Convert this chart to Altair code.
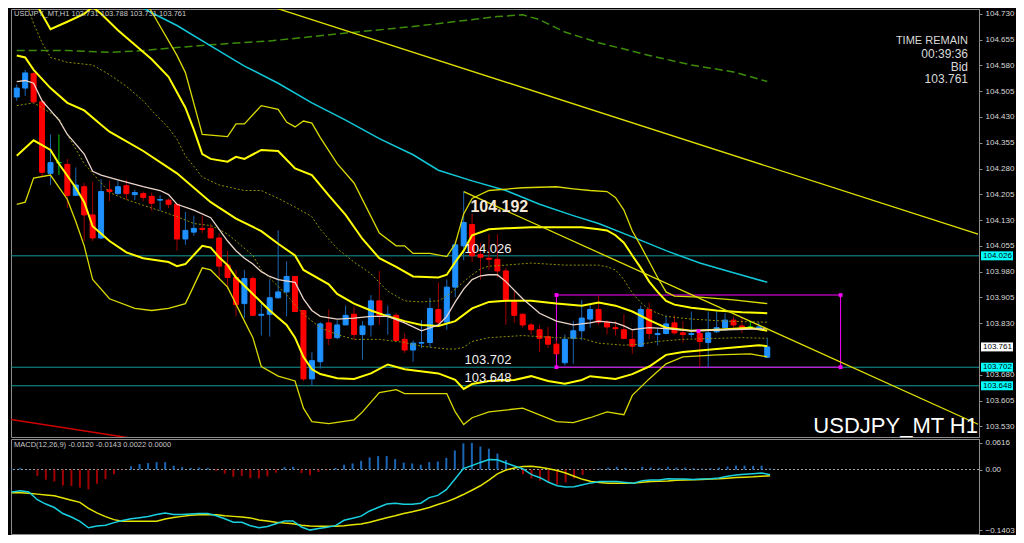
import altair as alt
import pandas as pd

# ---------------- USDJPY_MT H1 candles (bar index 0..89) ----------------
opens = [104.488,104.514,104.556,104.474,104.266,104.297,104.292,104.202,104.227,104.145,
         104.078,104.218,104.207,104.230,104.204,104.207,104.199,104.188,104.188,104.176,
         104.075,104.095,104.106,104.106,104.078,103.999,103.963,103.887,103.960,103.853,
         103.856,103.904,103.921,103.966,103.867,103.668,103.718,103.831,103.788,103.825,
         103.856,103.797,103.825,103.895,103.853,103.853,103.783,103.752,103.772,103.774,
         103.870,103.833,103.935,104.055,104.117,104.030,104.019,104.016,103.982,103.895,
         103.856,103.825,103.811,103.791,103.769,103.715,103.786,103.808,103.842,103.870,
         103.833,103.817,103.811,103.783,103.763,103.870,103.797,103.800,103.831,103.802,
         103.797,103.800,103.774,103.805,103.817,103.839,103.822,103.819,103.814,103.731]
highs = [104.525,104.567,104.561,104.474,104.379,104.379,104.308,104.283,104.238,104.241,
         104.249,104.244,104.244,104.247,104.218,104.213,104.210,104.202,104.193,104.176,
         104.154,104.143,104.143,104.120,104.092,104.041,103.985,103.985,103.966,103.895,
         103.957,104.100,104.010,103.966,103.867,103.746,103.833,103.870,103.839,103.881,
         103.878,103.836,103.912,103.982,103.881,103.859,103.800,103.780,103.839,103.904,
         103.949,103.957,104.069,104.213,104.148,104.064,104.089,104.089,103.991,103.923,
         103.859,103.831,103.825,103.819,103.780,103.797,103.836,103.898,103.887,103.909,
         103.839,103.836,103.856,103.808,103.881,103.890,103.817,103.853,103.853,103.836,
         103.864,103.811,103.864,103.864,103.859,103.850,103.848,103.836,103.833,103.788]
lows = [104.477,104.491,104.469,104.255,104.232,104.261,104.165,104.202,104.069,104.069,
        104.075,104.185,104.204,104.188,104.188,104.185,104.157,104.157,104.165,104.041,
        104.058,104.084,104.092,104.078,103.957,103.929,103.850,103.845,103.850,103.794,
        103.791,103.901,103.850,103.862,103.662,103.648,103.698,103.766,103.783,103.825,
        103.780,103.724,103.791,103.825,103.797,103.780,103.743,103.718,103.758,103.760,
        103.825,103.811,103.906,104.013,104.008,103.957,103.985,103.963,103.825,103.831,
        103.817,103.797,103.746,103.758,103.741,103.707,103.712,103.780,103.817,103.825,
        103.797,103.794,103.783,103.741,103.760,103.783,103.766,103.797,103.797,103.774,
        103.788,103.704,103.702,103.802,103.808,103.817,103.802,103.814,103.811,103.731]
closes = [104.514,104.558,104.474,104.269,104.297,104.297,104.202,104.232,104.145,104.078,
          104.213,104.213,104.227,104.207,104.210,104.196,104.179,104.190,104.176,104.075,
          104.100,104.106,104.103,104.078,103.996,103.963,103.884,103.960,103.853,103.856,
          103.904,103.921,103.966,103.864,103.668,103.721,103.828,103.786,103.825,103.853,
          103.797,103.822,103.895,103.853,103.856,103.780,103.752,103.772,103.774,103.873,
          103.833,103.935,104.058,104.123,104.026,104.022,104.016,103.982,103.895,103.853,
          103.825,103.811,103.786,103.769,103.741,103.783,103.808,103.845,103.870,103.833,
          103.819,103.814,103.786,103.763,103.870,103.800,103.800,103.828,103.802,103.797,
          103.800,103.777,103.802,103.817,103.839,103.825,103.817,103.819,103.819,103.761]

# ---------------- Bollinger-style bands (bar index, price) ----------------
bb_mid_i = [0,1,2,4,6,8,10,11,15,19,23,26,29,31,33,34,37,38,40,42,44,46,48,50,52,54,56,58,61,64,67,69,71,73,75,77,80,83,87,89]
bb_mid = [104.609,104.603,104.567,104.514,104.471,104.449,104.407,104.387,104.331,104.266,
          104.182,104.134,104.098,104.061,104.027,103.985,103.943,103.915,103.887,103.867,
          103.850,103.836,103.825,103.822,103.836,103.873,103.892,103.895,103.895,103.887,
          103.881,103.890,103.881,103.864,103.839,103.817,103.808,103.811,103.817,103.808]
bb_up2_i = [0,2,4,6,8,9,10,12,14,16,18,20,21,22,23,25,26,27,29,31,33,35,37,39,41,43,45,47,50,51,
            52,53,54,56,58,61,64,67,69,70,71,72,73,74,75,76,77,78,80,83,86,89]
bb_up2 = [104.856,104.772,104.685,104.707,104.730,104.750,104.730,104.682,104.640,104.598,
          104.547,104.457,104.393,104.322,104.308,104.300,104.314,104.308,104.334,104.331,
          104.280,104.261,104.202,104.145,104.075,104.019,103.994,103.966,103.963,103.971,
          104.008,104.041,104.086,104.103,104.106,104.109,104.109,104.109,104.103,104.100,
          104.086,104.064,104.027,103.991,103.951,103.921,103.895,103.884,103.875,103.867,
          103.862,103.859]
bb_up3_i = [10,15,16,19,20,22,25,26,27,29,31,32,33,34,35,36,38,40,43,45,46,47,49,51,52,53,54,56,60,64,
            66,68,70,71,72,73,74,76,77,78,81,85,89]
bb_up3 = [104.969,104.778,104.736,104.609,104.559,104.379,104.373,104.410,104.410,104.463,
          104.452,104.415,104.401,104.418,104.412,104.370,104.294,104.238,104.092,104.055,
          104.055,104.033,104.033,104.024,104.061,104.148,104.193,104.216,104.224,104.227,
          104.221,104.216,104.213,104.196,104.159,104.098,104.055,103.963,103.921,103.909,
          103.906,103.898,103.887]
bb_up1_i = [0,1,2,3,4,6,9,11,13,15,16,18,19,20,22,24,27,29,31,33,35,36,37,38,40,42,44,46,48,50,
            51,52,53,54,55,56,58,61,65,69,70,71,72,73,74,75,76,77,80,84,89]
bb_up1 = [104.814,104.772,104.702,104.646,104.603,104.589,104.581,104.553,104.519,104.477,
          104.449,104.398,104.365,104.317,104.255,104.232,104.216,104.216,104.193,104.168,
          104.140,104.103,104.075,104.047,104.008,103.974,103.923,103.895,103.892,103.895,
          103.909,103.929,103.951,103.971,103.988,103.996,103.999,104.005,103.999,103.999,
          103.994,103.985,103.957,103.918,103.890,103.870,103.859,103.850,103.842,103.836,
          103.833]
bb_lo1_i = [0,2,3,5,6,8,9,11,13,15,17,19,21,23,24,25,26,28,29,31,32,34,36,38,40,43,46,48,51,52,
            53,54,56,60,64,67,69,72,74,76,79,83,86,89]
bb_lo1 = [104.463,104.471,104.457,104.426,104.379,104.294,104.266,104.210,104.190,104.173,
          104.157,104.140,104.120,104.114,104.103,104.089,104.069,104.027,103.985,103.937,
          103.912,103.856,103.817,103.797,103.783,103.783,103.774,103.763,103.755,103.755,
          103.760,103.777,103.788,103.794,103.788,103.786,103.772,103.766,103.769,103.777,
          103.783,103.786,103.788,103.786]
bb_lo2_i = [0,2,4,5,7,8,9,11,13,15,18,19,20,22,23,24,25,26,28,30,32,33,34,35,36,38,40,42,44,46,
            50,52,53,54,56,59,61,63,65,67,68,71,73,75,77,79,83,88,89]
bb_lo2 = [104.317,104.362,104.334,104.294,104.224,104.182,104.112,104.069,104.036,104.019,
          104.008,103.996,104.002,104.055,104.050,104.022,103.999,103.963,103.915,103.867,
          103.825,103.788,103.732,103.696,103.682,103.670,103.668,103.684,103.710,103.696,
          103.684,103.665,103.639,103.653,103.662,103.665,103.676,103.662,103.654,103.665,
          103.676,103.668,103.682,103.704,103.738,103.746,103.755,103.766,103.763]
bb_lo3_i = [0,1,2,4,6,7,8,9,11,14,16,18,20,22,23,25,27,28,29,31,33,34,35,37,40,41,43,45,46,51,
            52,53,54,56,60,64,66,68,70,72,73,75,77,79,83,87,89]
bb_lo3 = [104.176,104.182,104.252,104.261,104.190,104.126,104.055,103.957,103.901,103.873,
          103.867,103.873,103.887,103.991,103.985,103.935,103.836,103.788,103.704,103.676,
          103.662,103.583,103.544,103.538,103.549,103.572,103.628,103.637,103.625,103.625,
          103.572,103.535,103.555,103.572,103.583,103.544,103.541,103.555,103.572,103.564,
          103.620,103.668,103.712,103.732,103.738,103.741,103.732]

# ---------------- moving averages ----------------
ma_fast_i = [0,1,2,3,4,5,6,7,8,9,10,12,15,17,18,19,21,23,24,25,26,27,28,29,30,31,33,34,35,36,
             38,40,42,44,46,48,50,51,52,53,54,55,56,57,58,60,62,64,66,68,69,71,72,73,74,75,77,80,84,89]
ma_fast = [104.533,104.536,104.528,104.477,104.449,104.421,104.379,104.351,104.322,104.272,
           104.261,104.247,104.227,104.216,104.204,104.176,104.159,104.137,104.103,104.069,
           104.041,104.019,104.002,103.980,103.966,103.957,103.949,103.901,103.867,103.850,
           103.842,103.845,103.850,103.850,103.831,103.808,103.825,103.850,103.892,103.929,
           103.957,103.968,103.971,103.971,103.951,103.901,103.859,103.836,103.825,103.831,
           103.836,103.831,103.822,103.811,103.814,103.817,103.814,103.808,103.811,103.814]
ma_mid_i = [10,14,16,19,23,27,31,35,39,43,47,50,54,58,62,66,69,73,77,81,85,89]
ma_mid = [104.856,104.761,104.733,104.696,104.637,104.578,104.528,104.471,104.421,104.367,
          104.320,104.275,104.244,104.216,104.176,104.143,104.120,104.081,104.041,104.005,
          103.977,103.949]
ma_slow_i = [0,6,11,15,19,23,30,39,47,55,57,60,62,65,69,75,80,85,89]
ma_slow = [104.623,104.623,104.618,104.623,104.632,104.640,104.651,104.674,104.693,104.716,
           104.722,104.727,104.713,104.677,104.646,104.609,104.581,104.561,104.533]

# ---------------- drawn objects ----------------
trend1_i = [25, 114]
trend1 = [104.792, 104.089]
trend2_i = [53, 114]
trend2 = [104.213, 103.536]
red_i = [-1, 14]
red_line = [103.551, 103.494]
levels = [104.026, 103.702, 103.648]
box_i = [64, 97.7]
box_p = [103.912, 103.702]

ann_text = ["104.192", "104.026", "103.702", "103.648"]
ann_i = [53.8, 53.1, 53.1, 53.1]
ann_p = [104.168, 104.047, 103.724, 103.670]

level_tags = ["104.026", "103.702", "103.648"]
bid_tag = ["103.761"]
bid_price = [103.761]

# 103.755 sits under the Bid tag, so it is not listed
price_ticks = [104.730, 104.655, 104.580, 104.505, 104.430, 104.355, 104.280, 104.205, 104.130,
               104.055, 103.980, 103.905, 103.830, 103.680, 103.605, 103.530]

header = "USDJPY_MT,H1  103.731 103.788 103.731 103.761"
corner_lines = ["TIME REMAIN", "00:39:36", "Bid", "103.761"]

# ---------------- MACD(12,26,9) ----------------
hist = [0.002,0.0037,0.001,-0.0148,-0.0237,-0.028,-0.037,-0.038,-0.042,-0.046,
        -0.033,-0.022,-0.011,-0.001,0.0074,0.0126,0.0148,0.017,0.017,0.0089,
        0.0052,0.0037,0.0044,0.0037,-0.0037,-0.0096,-0.017,-0.0148,-0.020,-0.0207,
        -0.016,-0.0074,0.0052,0.006,-0.0081,-0.0133,-0.006,-0.0015,0.0037,0.011,
        0.014,0.020,0.028,0.031,0.031,0.024,0.016,0.014,0.011,0.017,
        0.0185,0.027,0.044,0.0605,0.0616,0.053,0.048,0.037,0.022,0.001,
        -0.011,-0.0207,-0.026,-0.030,-0.035,-0.030,-0.0207,-0.0126,-0.0015,0.002,
        0.0044,0.006,0.0037,0.001,0.006,0.0044,0.0037,0.006,0.0044,0.0044,
        0.003,0.002,0.003,0.0044,0.0067,0.0089,0.0089,0.008,0.0089,0.0022]
macd = [-0.052,-0.049,-0.052,-0.070,-0.080,-0.088,-0.102,-0.110,-0.120,-0.135,
        -0.131,-0.129,-0.123,-0.118,-0.114,-0.1115,-0.109,-0.104,-0.1005,-0.104,
        -0.104,-0.103,-0.102,-0.102,-0.107,-0.114,-0.122,-0.122,-0.130,-0.135,
        -0.132,-0.1255,-0.119,-0.119,-0.133,-0.1403,-0.1366,-0.1337,-0.130,-0.1175,
        -0.113,-0.108,-0.096,-0.088,-0.080,-0.078,-0.0805,-0.0805,-0.078,-0.065,
        -0.060,-0.0466,-0.0228,0.002,0.009,0.0164,0.023,0.0223,0.015,0.008,
        0.0015,-0.0118,-0.019,-0.0295,-0.0377,-0.0406,-0.0399,-0.0355,-0.031,-0.028,
        -0.028,-0.028,-0.030,-0.0317,-0.0258,-0.0244,-0.0244,-0.0214,-0.022,-0.022,
        -0.0229,-0.022,-0.0214,-0.0199,-0.0155,-0.0125,-0.011,-0.0096,-0.008,-0.0120]
signal = [-0.054,-0.054,-0.055,-0.057,-0.059,-0.061,-0.066,-0.071,-0.076,-0.090,
          -0.1005,-0.109,-0.116,-0.1197,-0.120,-0.120,-0.120,-0.1197,-0.1145,-0.111,
          -0.1085,-0.106,-0.105,-0.104,-0.105,-0.107,-0.1085,-0.110,-0.112,-0.1167,
          -0.119,-0.122,-0.124,-0.1255,-0.129,-0.131,-0.1315,-0.1315,-0.1315,-0.130,
          -0.128,-0.126,-0.122,-0.1167,-0.1115,-0.107,-0.102,-0.098,-0.093,-0.088,
          -0.081,-0.075,-0.067,-0.058,-0.048,-0.0377,-0.0244,-0.0102,-0.0013,0.0035,
          0.0067,0.0074,0.0052,0.0015,-0.0022,-0.008,-0.0155,-0.0228,-0.028,-0.030,
          -0.0317,-0.0317,-0.0317,-0.031,-0.0295,-0.028,-0.0273,-0.0266,-0.025,-0.0244,
          -0.0236,-0.0229,-0.022,-0.0214,-0.020,-0.0184,-0.0177,-0.017,-0.0155,-0.0143]
macd_label = "MACD(12,26,9) -0.0120 -0.0143 0.0022 0.0000"

# ---------------- layout ----------------
W, H1, H2 = 968, 428, 95
FONT = "Liberation Sans"
XSCALE = alt.Scale(domain=[-0.09, 113.52], nice=False, zero=False)


def X(f):
    return alt.X(f, type="quantitative", scale=XSCALE, axis=None)


yscale = alt.Scale(domain=[103.499, 104.744], nice=False, zero=False)
yaxis = alt.Axis(orient="right", values=price_ticks, format=".3f", title=None, grid=False,
                 domainColor="#8c8c8c", tickColor="#8c8c8c", tickSize=3,
                 labelColor="#d8d8d8", labelFont=FONT, labelFontSize=8, labelPadding=3,
                 labelFlush=False, labelOverlap=False, minExtent=36, maxExtent=36)


def Y(f):
    return alt.Y(f, type="quantitative", scale=yscale, axis=yaxis)


def line(ix, vals, color, width, dash=None):
    kw = dict(color=color, strokeWidth=width, clip=True)
    if dash:
        kw["strokeDash"] = dash
    df = pd.DataFrame({"i": ix, "price": vals})
    return alt.Chart(df).mark_line(**kw).encode(x=X("i"), y=Y("price"))


n = len(opens)
idx = list(range(n))
dirs = ["up" if c > o else ("down" if c < o else "doji") for o, c in zip(opens, closes)]
candles = pd.DataFrame({"i": idx, "open": opens, "high": highs, "low": lows,
                        "close": closes, "dir": dirs})

DIRS = ["up", "down", "doji"]
wicks = alt.Chart(candles).mark_rule(strokeWidth=1).encode(
    x=X("i"), y=Y("low"), y2=alt.Y2("high"),
    color=alt.Color("dir:N", scale=alt.Scale(domain=DIRS, range=["#1a66b4", "#a00000", "#00c800"]),
                    legend=None))
bodies = alt.Chart(candles).mark_bar(size=5, strokeWidth=1).encode(
    x=X("i"), y=Y("open"), y2=alt.Y2("close"),
    fill=alt.Fill("dir:N", scale=alt.Scale(domain=DIRS, range=["#1e90ff", "#ff0000", "#00c800"]),
                  legend=None),
    stroke=alt.Stroke("dir:N", scale=alt.Scale(domain=DIRS, range=["#1e90ff", "#ff0000", "#00c800"]),
                      legend=None))

lvl_chart = alt.Chart(pd.DataFrame({"price": levels})).mark_rule(
    color="#159a9a", strokeWidth=1).encode(y=Y("price"))

box_df = pd.DataFrame({"i0": [box_i[0]], "i1": [box_i[1]], "top": [box_p[0]], "bot": [box_p[1]]})
box_chart = alt.Chart(box_df).mark_rect(fill="#000000", fillOpacity=0, stroke="#ff00ff",
                                        strokeWidth=1).encode(
    x=X("i0"), x2=alt.X2("i1"), y=Y("top"), y2=alt.Y2("bot"))
handles_df = pd.DataFrame({"i": [box_i[0], box_i[0], box_i[1], box_i[1], (box_i[0] + box_i[1]) / 2],
                           "price": [box_p[0], box_p[1], box_p[0], box_p[1], (box_p[0] + box_p[1]) / 2]})
handles = alt.Chart(handles_df).mark_square(size=14, color="#ff00ff", opacity=1).encode(
    x=X("i"), y=Y("price"))

THICK = "#ffff00"
THIN = "#dada00"
DOT = "#8f8f00"
lines = [
    line(ma_slow_i, ma_slow, "#3c8c08", 1.5, [8, 4]),
    line(ma_mid_i, ma_mid, "#10c8d8", 1.5),
    line(bb_up1_i, bb_up1, DOT, 1, [2, 2]),
    line(bb_lo1_i, bb_lo1, DOT, 1, [2, 2]),
    line(bb_up3_i, bb_up3, THIN, 1.3),
    line(bb_lo3_i, bb_lo3, THIN, 1.3),
    line(bb_up2_i, bb_up2, THICK, 2),
    line(bb_lo2_i, bb_lo2, THICK, 2),
    line(bb_mid_i, bb_mid, THICK, 2),
    line(ma_fast_i, ma_fast, "#ecd6cc", 1.3),
    line(trend1_i, trend1, "#e0e000", 1.3),
    line(trend2_i, trend2, "#e0e000", 1.3),
    line(red_i, red_line, "#d00000", 1.5),
]

ann_df = pd.DataFrame({"i": ann_i, "price": ann_p, "t": ann_text})
ann_big = alt.Chart(ann_df.iloc[:1]).mark_text(align="left", baseline="middle", font=FONT,
                                               fontSize=16, fontWeight="bold", color="#f6e8d8").encode(
    x=X("i"), y=Y("price"), text="t:N")
ann_small = alt.Chart(ann_df.iloc[1:]).mark_text(align="left", baseline="middle", font=FONT,
                                                 fontSize=13, color="#f0f0f0").encode(
    x=X("i"), y=Y("price"), text="t:N")

head_txt = alt.Chart(pd.DataFrame({"t": [header]})).mark_text(
    align="left", baseline="middle", font=FONT, fontSize=7.5, color="#c8c8c8").encode(
    x=alt.value(3), y=alt.value(5), text="t:N")
corner_df = pd.DataFrame({"t": corner_lines})
corner_y = [32, 45, 57.5, 70]
corner_fs = [11, 12, 12, 12]
corners = [
    alt.Chart(corner_df.iloc[k:k + 1]).mark_text(align="right", baseline="middle", font=FONT,
                                                fontSize=corner_fs[k], color="#d8d8d8").encode(
        x=alt.value(957), y=alt.value(corner_y[k]), text="t:N")
    for k in range(4)
]
sym_txt = alt.Chart(pd.DataFrame({"t": ["USDJPY_MT H1"]})).mark_text(
    align="right", baseline="middle", font=FONT, fontSize=22, color="#ffffff").encode(
    x=alt.value(W - 1), y=alt.value(417), text="t:N")

BOX = "M-1,-0.28L1,-0.28L1,0.28L-1,0.28Z"
lvl_tag_df = pd.DataFrame({"price": levels, "t": level_tags})
bid_tag_df = pd.DataFrame({"price": bid_price, "t": bid_tag})
lvl_box = alt.Chart(lvl_tag_df).mark_point(shape=BOX, size=1024, filled=True, opacity=1,
                                           color="#00ffff").encode(x=alt.value(W + 18), y=Y("price"))
bid_box = alt.Chart(bid_tag_df).mark_point(shape=BOX, size=1024, filled=True, opacity=1,
                                           color="#ffffff").encode(x=alt.value(W + 18), y=Y("price"))
lvl_txt = alt.Chart(lvl_tag_df).mark_text(align="left", baseline="middle", font=FONT, fontSize=8,
                                          color="#000000").encode(
    x=alt.value(W + 4), y=Y("price"), text="t:N")
bid_txt = alt.Chart(bid_tag_df).mark_text(align="left", baseline="middle", font=FONT, fontSize=8,
                                          color="#000000").encode(
    x=alt.value(W + 4), y=Y("price"), text="t:N")

main = alt.layer(lvl_chart, box_chart, wicks, bodies, *lines, handles, ann_big, ann_small,
                 head_txt, *corners, sym_txt, lvl_box, bid_box, lvl_txt, bid_txt
                 ).properties(width=W, height=H1)

# ---------------- MACD panel ----------------
mscale = alt.Scale(domain=[-0.1493, 0.0706], nice=False, zero=False)
maxis = alt.Axis(orient="right", values=[-0.1403, 0.0, 0.0616], title=None, grid=False,
                 labelExpr="datum.value == 0 ? '0.00' : format(datum.value, '.4f')",
                 domainColor="#8c8c8c", tickColor="#8c8c8c", tickSize=3,
                 labelColor="#d8d8d8", labelFont=FONT, labelFontSize=8, labelPadding=3,
                 labelFlush=False, labelOverlap=False, minExtent=36, maxExtent=36)


def MY(f):
    return alt.Y(f, type="quantitative", scale=mscale, axis=maxis)


mdf = pd.DataFrame({"i": idx, "hist": hist, "macd": macd, "signal": signal})
mdf["zero"] = 0.0
mdf["sign"] = ["pos" if h >= 0 else "neg" for h in hist]

zero_line = alt.Chart(pd.DataFrame({"zero": [0.0]})).mark_rule(
    color="#a0a0a0", strokeDash=[2, 2], strokeWidth=1).encode(y=MY("zero"))
hist_bars = alt.Chart(mdf).mark_rule(strokeWidth=2).encode(
    x=X("i"), y=MY("hist"), y2=alt.Y2("zero"),
    color=alt.Color("sign:N", scale=alt.Scale(domain=["pos", "neg"], range=["#2a7ee0", "#e00000"]),
                    legend=None))
macd_line = alt.Chart(mdf).mark_line(color="#18d0e0", strokeWidth=1.5).encode(x=X("i"), y=MY("macd"))
sig_line = alt.Chart(mdf).mark_line(color="#e4e400", strokeWidth=1.5).encode(x=X("i"), y=MY("signal"))
macd_txt = alt.Chart(pd.DataFrame({"t": [macd_label]})).mark_text(
    align="left", baseline="middle", font=FONT, fontSize=7.5, color="#c8c8c8").encode(
    x=alt.value(3), y=alt.value(6), text="t:N")

macd_panel = alt.layer(zero_line, hist_bars, sig_line, macd_line, macd_txt).properties(width=W, height=H2)

chart = alt.vconcat(main, macd_panel, spacing=0).properties(
    background="#000000", padding=0
).configure_view(stroke="#8c8c8c", strokeWidth=1, fill="#000000")

chart.save("out.html", embed_options={"renderer": "svg", "actions": False})
